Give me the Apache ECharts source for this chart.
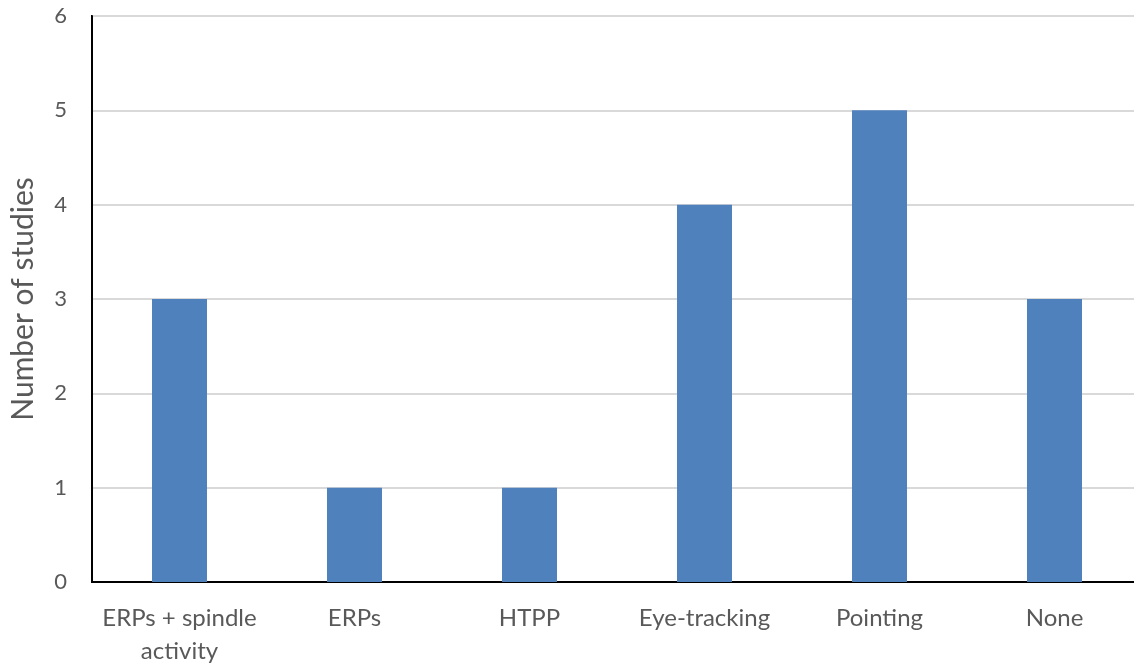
<!DOCTYPE html>
<html>
<head>
<meta charset="utf-8">
<script src="https://cdn.jsdelivr.net/npm/echarts@6/dist/echarts.min.js"></script>
<style>
  html, body { margin: 0; padding: 0; background: #fff; }
  #chart { width: 1134px; height: 665px; }
</style>
</head>
<body>
<div id="chart"></div>
<script>
// data
const methods = ['ERPs + spindle\nactivity', 'ERPs', 'HTPP', 'Eye-tracking', 'Pointing', 'None'];
const studies = [3, 1, 1, 4, 5, 3];

let myChart = echarts.init(document.getElementById('chart'));
const font = 'Lato, "Open Sans", sans-serif';

let option = {
    animation: false,
    grid: {
        left: 92,
        right: -8,
        top: 16,
        bottom: 83,
        outerBoundsMode: 'none',
        containLabel: false,
        show: true,
        borderColor: '#000',
        borderWidth: 2
    },
    xAxis: {
        type: 'category',
        data: methods,
        axisLine: { lineStyle: { color: '#000', width: 2 } },
        axisTick: { show: false },
        axisLabel: {
            interval: 0,
            color: '#595959',
            fontSize: 24,
            fontFamily: font,
            margin: 20,
            lineHeight: 33
        }
    },
    yAxis: {
        type: 'value',
        min: 0,
        max: 6,
        interval: 1,
        name: 'Number of studies',
        nameLocation: 'middle',
        nameGap: 54,
        nameTextStyle: { color: '#595959', fontSize: 30, fontFamily: font },
        axisLine: { show: true, lineStyle: { color: '#000', width: 2 } },
        axisTick: { show: false },
        axisLabel: { color: '#595959', fontSize: 22, fontFamily: font, margin: 25 },
        splitLine: { lineStyle: { color: '#d9d9d9', width: 2 } }
    },
    series: [{
        type: 'bar',
        data: studies,
        barWidth: 55,
        itemStyle: { color: '#4f81bd' }
    }]
};

myChart.setOption(option);
</script>
</body>
</html>
